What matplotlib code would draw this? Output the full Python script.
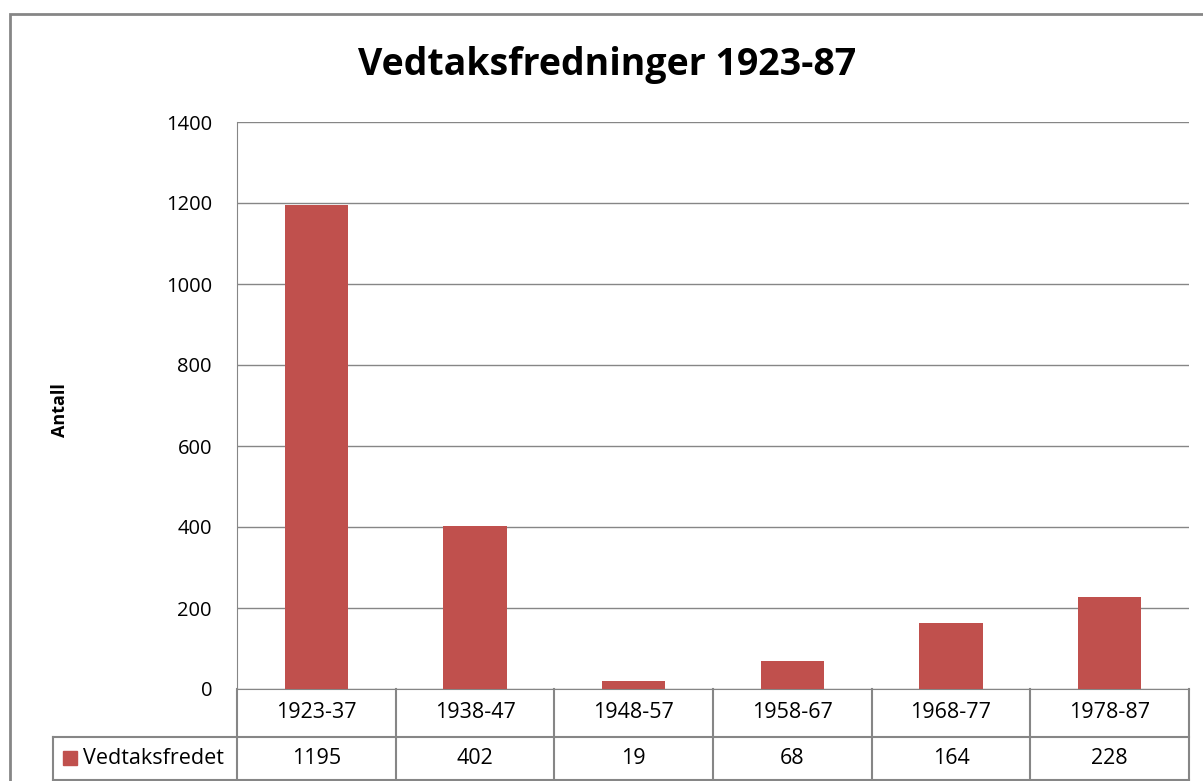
import numpy as np
import matplotlib.pyplot as plt
import matplotlib.transforms as mtransforms
from matplotlib.lines import Line2D
from matplotlib.patches import Rectangle

# data
perioder = ['1923-37', '1938-47', '1948-57', '1958-67', '1968-77', '1978-87']
vedtaksfredet = [1195, 402, 19, 68, 164, 228]
serie_navn = 'Vedtaksfredet'
tittel = 'Vedtaksfredninger 1923-87'
y_tekst = 'Antall'
y_ticks = [0, 200, 400, 600, 800, 1000, 1200, 1400]

bar_farge = '#C0504D'
grå = '#868686'
font = ['Open Sans', 'DejaVu Sans']

W, H = 1203, 781
fig = plt.figure(figsize=(W / 100, H / 100), dpi=100)
fig.patch.set_facecolor('white')

def px(x, y):
    return x / W, 1 - y / H

# outer chart border
fig.add_artist(Rectangle(px(10, 1000), (1300 - 10) / W, (1000 - 14) / H,
                         transform=fig.transFigure, fill=False,
                         edgecolor=grå, linewidth=2))

left, right, top, bottom = 237, 1189, 122, 689
ax = fig.add_axes([left / W, 1 - bottom / H, (right - left) / W, (bottom - top) / H])
x = np.arange(len(perioder))
ax.bar(x, vedtaksfredet, width=0.4, color=bar_farge, zorder=3)
ax.set_xlim(-0.5, len(perioder) - 0.5)
ax.set_ylim(0, 1400)
ax.set_yticks(y_ticks)
ax.set_yticklabels([str(t) for t in y_ticks], family=font, fontsize=14.5)
ax.tick_params(axis='y', length=0, pad=18)
ax.set_xticks([])
ax.grid(axis='y', color=grå, linewidth=1, zorder=0)
for s in ['top', 'right']:
    ax.spines[s].set_visible(False)
ax.spines['left'].set_color(grå)
ax.spines['bottom'].set_color(grå)

fig.text(*px(607, 65), tittel, ha='center', va='center',
         fontsize=27, fontweight='bold', family=font)
fig.text(*px(60, 410), y_tekst, ha='center', va='center', rotation=90,
         fontsize=13, fontweight='bold', family=font)

# data table below the axis
trans = mtransforms.blended_transform_factory(ax.transData, fig.transFigure)
row1, row2, row3 = 1 - 689 / H, 1 - 737 / H, 1 - 780 / H
x0_fig = 53 / W
for yy in [row2, row3]:
    fig.add_artist(Line2D([x0_fig, right / W], [yy, yy], transform=fig.transFigure,
                          color=grå, linewidth=1.5))
for b in np.arange(-0.5, len(perioder), 1.0):
    fig.add_artist(Line2D([b, b], [row1, row3], transform=trans, color=grå, linewidth=1.5))
fig.add_artist(Line2D([x0_fig, x0_fig], [row2, row3], transform=fig.transFigure,
                      color=grå, linewidth=1.5))
for i, (p, v) in enumerate(zip(perioder, vedtaksfredet)):
    fig.text(i, (row1 + row2) / 2, p, transform=trans, ha='center', va='center',
             fontsize=15.5, family=font)
    fig.text(i, (row2 + row3) / 2, str(v), transform=trans, ha='center', va='center',
             fontsize=15.5, family=font)
fig.add_artist(Rectangle(px(63, 765), 14 / W, 14 / H, transform=fig.transFigure,
                         color=bar_farge))
fig.text(*px(83, 758), serie_navn, ha='left', va='center', fontsize=15.5, family=font)

fig.savefig('out.png', dpi=100)
